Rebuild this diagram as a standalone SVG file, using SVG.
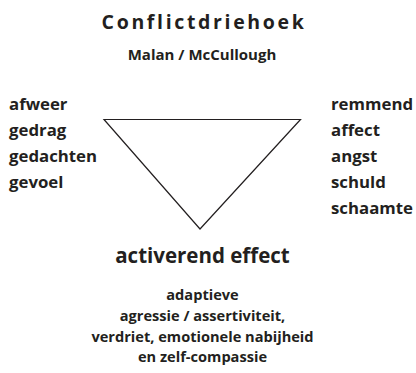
<svg xmlns="http://www.w3.org/2000/svg" width="416" height="373" viewBox="0 0 416 373">
<style>
text{font-family:"Open Sans","Noto Sans","Liberation Sans",sans-serif;font-weight:700;fill:#231f20}
.t{font-size:19.5px;letter-spacing:2.65px}
.s{font-size:15px}
.l{font-size:16.8px}
.a{font-size:20.5px}
.b{font-size:14.6px}
.c{text-anchor:middle}
.tri{fill:none;stroke:#231f20;stroke-width:1.2}
</style>
<rect width="416" height="373" fill="#fff"/>
<g id="title">
<text class="t c" x="204" y="29">Conflictdriehoek</text>
<text class="s c" x="202" y="60">Malan / McCullough</text>
</g>
<g id="connectors">
<polygon class="tri" points="104,119.5 300.5,119.5 200,229"/>
</g>
<g id="left">
<text class="l" x="9" y="109.5">afweer</text>
<text class="l" x="9" y="135.5">gedrag</text>
<text class="l" x="9" y="161.5">gedachten</text>
<text class="l" x="9" y="187.5">gevoel</text>
</g>
<g id="right">
<text class="l" x="331" y="109.5">remmend</text>
<text class="l" x="331" y="135.5">affect</text>
<text class="l" x="331" y="161.5">angst</text>
<text class="l" x="331" y="187.5">schuld</text>
<text class="l" x="331" y="213.5">schaamte</text>
</g>
<g id="bottom">
<text class="a c" x="202.5" y="262.5">activerend effect</text>
<text class="b c" x="202.5" y="300">adaptieve</text>
<text class="b c" x="202.5" y="321">agressie / assertiviteit,</text>
<text class="b c" x="202.5" y="341.5">verdriet, emotionele nabijheid</text>
<text class="b c" x="202.5" y="362">en zelf-compassie</text>
</g>
</svg>
